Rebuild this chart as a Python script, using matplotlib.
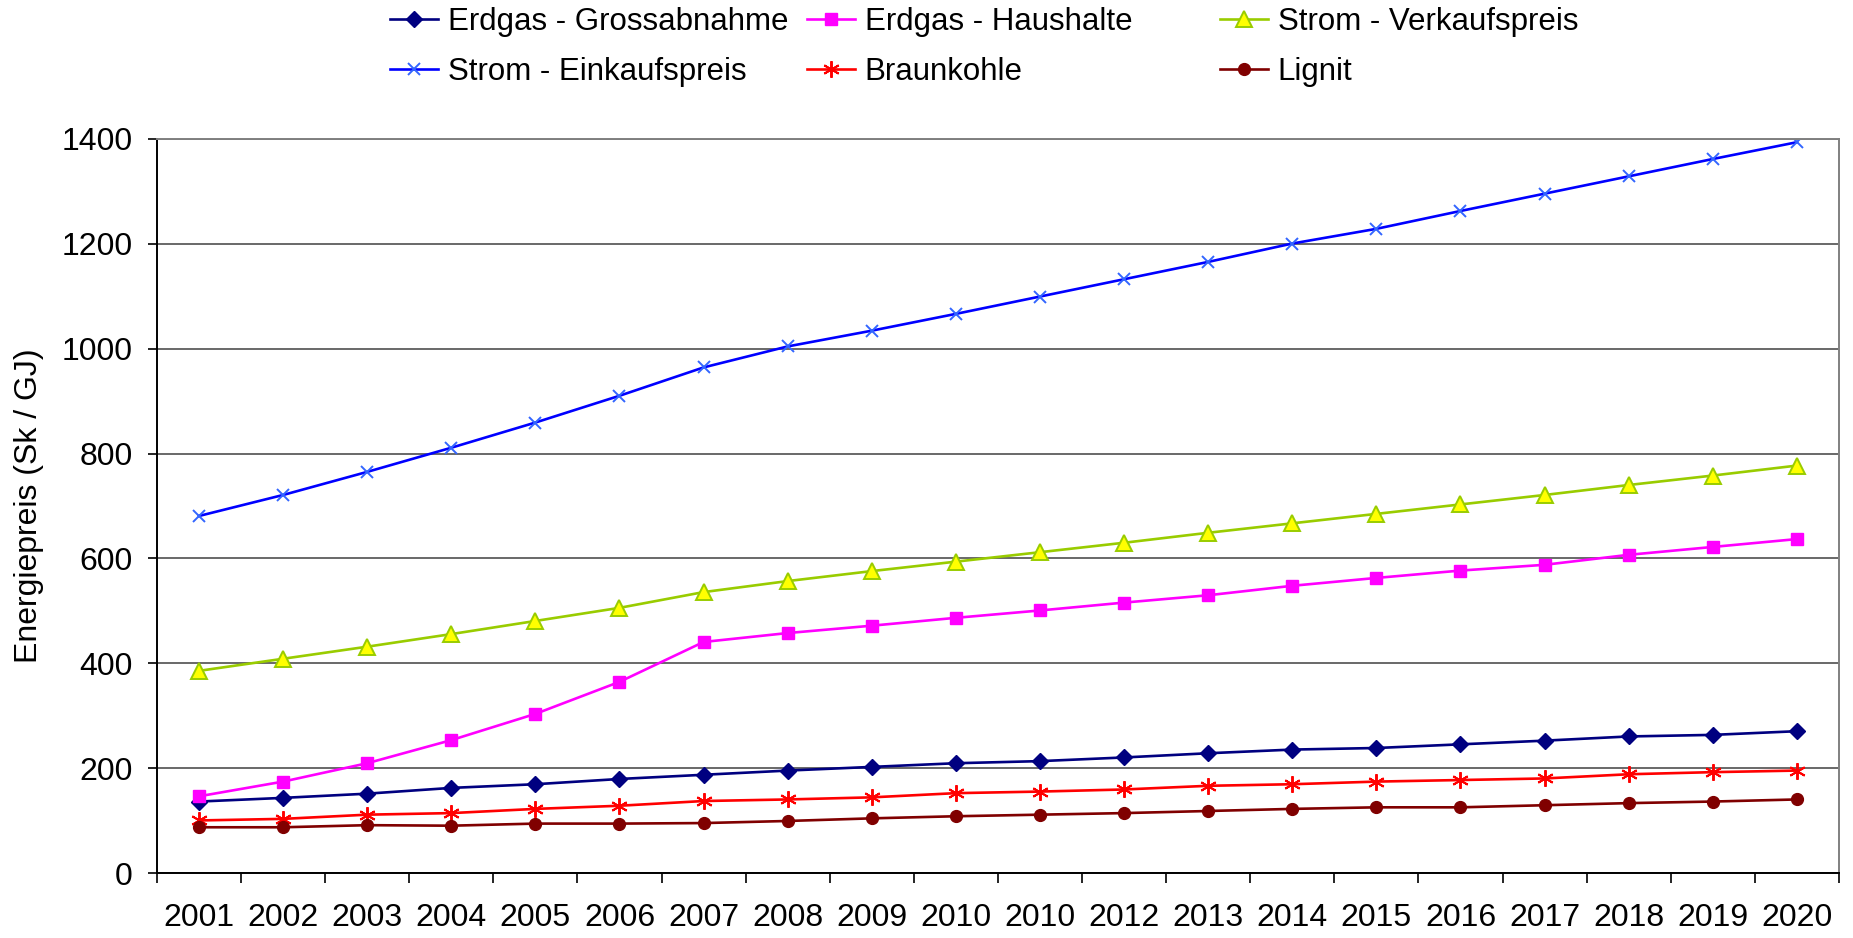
import matplotlib
matplotlib.use("Agg")
import matplotlib.pyplot as plt
import numpy as np

## data
years = ["2001", "2002", "2003", "2004", "2005", "2006", "2007", "2008", "2009", "2010",
         "2010", "2012", "2013", "2014", "2015", "2016", "2017", "2018", "2019", "2020"]

erdgas_gross = [137, 144, 152, 163, 170, 180, 188, 196, 203, 210,
                214, 221, 229, 236, 239, 246, 253, 261, 264, 271]
erdgas_haus = [147, 175, 210, 254, 304, 365, 441, 458, 472, 487,
               501, 516, 530, 548, 563, 577, 588, 607, 622, 637]
strom_verkauf = [386, 409, 432, 456, 481, 506, 536, 557, 576, 594,
                 612, 630, 649, 667, 685, 703, 721, 740, 758, 777]
strom_einkauf = [681, 721, 765, 811, 859, 910, 964, 1004, 1034, 1066,
                 1099, 1132, 1165, 1200, 1228, 1262, 1295, 1328, 1361, 1393]
braunkohle = [101, 104, 112, 115, 123, 129, 138, 141, 145, 153,
              156, 160, 167, 170, 175, 178, 181, 189, 193, 196]
lignit = [88, 88, 92, 91, 95, 95, 96, 100, 105, 109,
          112, 115, 119, 123, 126, 126, 130, 134, 137, 141]

plt.rcParams['font.family'] = ['Liberation Sans', 'DejaVu Sans']
FS = 23

fig = plt.figure(figsize=(18.53, 9.38), dpi=100)
ax = fig.add_axes([0.0847, 0.0688, 0.9077, 0.7835])

x = np.arange(len(years))
lw = 1.9

l1, = ax.plot(x, erdgas_gross, color='#000080', lw=lw, marker='D', ms=8.5,
              mfc='#000080', mec='#000080', label='Erdgas - Grossabnahme')
l2, = ax.plot(x, erdgas_haus, color='#FF00FF', lw=lw, marker='s', ms=8.5,
              mfc='#FF00FF', mec='#FF00FF', label='Erdgas - Haushalte')
l3, = ax.plot(x, strom_verkauf, color='#99CC00', lw=lw, marker='^', ms=11,
              mfc='#FFFF00', mec='#99CC00', mew=1.4, label='Strom - Verkaufspreis')
l4, = ax.plot(x, strom_einkauf, color='#0000FF', lw=lw, marker='x', ms=9,
              mec='#3366FF', mew=1.4, label='Strom - Einkaufspreis')
l5, = ax.plot(x, braunkohle, color='#FF0000', lw=lw, marker=(6, 2, 0), ms=12,
              mec='#FF0000', mew=1.4, label='Braunkohle')
l6, = ax.plot(x, lignit, color='#800000', lw=lw, marker='o', ms=8.5,
              mfc='#800000', mec='#800000', label='Lignit')

ax.set_xlim(-0.5, len(years) - 0.5)
ax.set_ylim(0, 1400)
ax.set_yticks(np.arange(0, 1401, 200))
ax.yaxis.grid(True, color='#404040', lw=1.1)
ax.set_axisbelow(True)

# category axis: ticks between categories, labels at centres
ax.set_xticks(np.arange(-0.5, len(years), 1.0))
ax.set_xticklabels([])
ax.set_xticks(x, minor=True)
ax.set_xticklabels(years, minor=True)
ax.tick_params(axis='x', which='major', direction='out', length=7, width=1.2, color='black')
ax.tick_params(axis='x', which='minor', length=0, pad=21, labelsize=FS)
ax.tick_params(axis='y', direction='out', length=6.5, width=1.2, pad=11, labelsize=FS)

for s in ['left', 'bottom']:
    ax.spines[s].set_color('black')
    ax.spines[s].set_linewidth(1.4)
for s in ['top', 'right']:
    ax.spines[s].set_color('#808080')
    ax.spines[s].set_linewidth(1.4)

ax.set_ylabel('Energiepreis (Sk / GJ)', fontsize=FS)
ax.yaxis.set_label_coords(-0.067, 0.5)

# legend in three fixed columns like the original
cols = [([l1, l4], 390), ([l2, l5], 807), ([l3, l6], 1220)]
for handles, px in cols:
    leg = fig.legend(handles=handles, loc='center left',
                     bbox_to_anchor=(px / 1853, 1 - 47 / 938),
                     frameon=False, fontsize=22.5, handlelength=1.55,
                     handletextpad=0.3, borderpad=0, borderaxespad=0,
                     labelspacing=0.62)

fig.savefig('out.png', dpi=100)
